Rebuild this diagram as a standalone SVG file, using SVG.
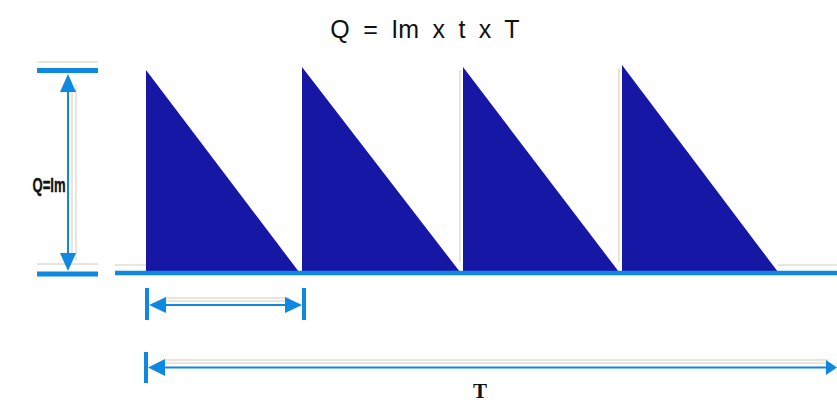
<svg xmlns="http://www.w3.org/2000/svg" width="837" height="414" viewBox="0 0 837 414">
  <defs>
    <style>
      .tri { fill: #1717a6; }
      .blue { stroke: #0f88e2; fill: none; }
      .head { fill: #0f88e2; }
      .shadow { stroke: #e2ddd0; fill: none; stroke-width: 1.5; }
      .title { font-family: "Liberation Sans", Arial, sans-serif; font-size: 25px; fill: #111; }
      .lbl { font-family: "Liberation Sans", Arial, sans-serif; font-weight: bold; fill: #111; }
    </style>
  </defs>
  <rect width="837" height="414" fill="#ffffff"/>

  <g id="title">
    <text class="title" x="425" y="38" text-anchor="middle" word-spacing="6.5">Q = Im x t x T</text>
  </g>

  <g id="shadows">
    <line class="shadow" x1="37" y1="62" x2="98" y2="62"/>
    <line class="shadow" x1="37" y1="264" x2="98" y2="264"/>
    <line class="shadow" x1="115" y1="265" x2="146" y2="265"/>
    <line class="shadow" x1="778" y1="265" x2="837" y2="265"/>
    <line class="shadow" x1="72" y1="85" x2="72" y2="260"/>
    <line class="shadow" x1="76" y1="85" x2="76" y2="260"/>
    <line class="shadow" x1="165" y1="298" x2="290" y2="298"/>
    <line class="shadow" x1="165" y1="301" x2="290" y2="301"/>
    <line class="shadow" x1="165" y1="360" x2="828" y2="360"/>
    <line class="shadow" x1="165" y1="363" x2="828" y2="363"/>
    <line class="shadow" x1="460" y1="70" x2="460" y2="262"/>
    <line class="shadow" x1="619" y1="68" x2="619" y2="262"/>
  </g>

  <g id="pulses">
    <polygon class="tri" points="146,70 146,272 299,272"/>
    <polygon class="tri" points="302,67 302,272 460,272"/>
    <polygon class="tri" points="463,67 463,272 619,272"/>
    <polygon class="tri" points="622,65 622,272 778,272"/>
  </g>

  <g id="baseline">
    <line class="blue" x1="115" y1="273" x2="837" y2="273" stroke-width="4.5"/>
  </g>

  <g id="height-dimension">
    <line class="blue" x1="37" y1="70.5" x2="98" y2="70.5" stroke-width="5"/>
    <line class="blue" x1="37" y1="274" x2="98" y2="274" stroke-width="5"/>
    <line class="blue" x1="68" y1="88" x2="68" y2="256" stroke-width="2"/>
    <polygon class="head" points="68,74 60,92 76,92"/>
    <polygon class="head" points="68,271 60,253 76,253"/>
    <text class="lbl" x="49" y="192" font-size="21" text-anchor="middle" textLength="33" lengthAdjust="spacingAndGlyphs" stroke="#111" stroke-width="0.4">Q=Im</text>
  </g>

  <g id="t-dimension">
    <line class="blue" x1="147" y1="288" x2="147" y2="320" stroke-width="4"/>
    <line class="blue" x1="304" y1="288" x2="304" y2="320" stroke-width="4"/>
    <line class="blue" x1="162" y1="305" x2="288" y2="305" stroke-width="2"/>
    <polygon class="head" points="149,305 166,297 166,313"/>
    <polygon class="head" points="302,305 285,297 285,313"/>
  </g>

  <g id="T-dimension">
    <line class="blue" x1="146" y1="352" x2="146" y2="383" stroke-width="4"/>
    <line class="blue" x1="162" y1="367.5" x2="828" y2="367.5" stroke-width="2"/>
    <polygon class="head" points="148,367.5 165,359 165,376"/>
    <polygon class="head" points="837,367.5 826,360 826,375"/>
    <text x="480" y="398" font-family="Liberation Serif, Times New Roman, serif" font-weight="bold" font-size="21" fill="#111" text-anchor="middle">T</text>
  </g>
</svg>
